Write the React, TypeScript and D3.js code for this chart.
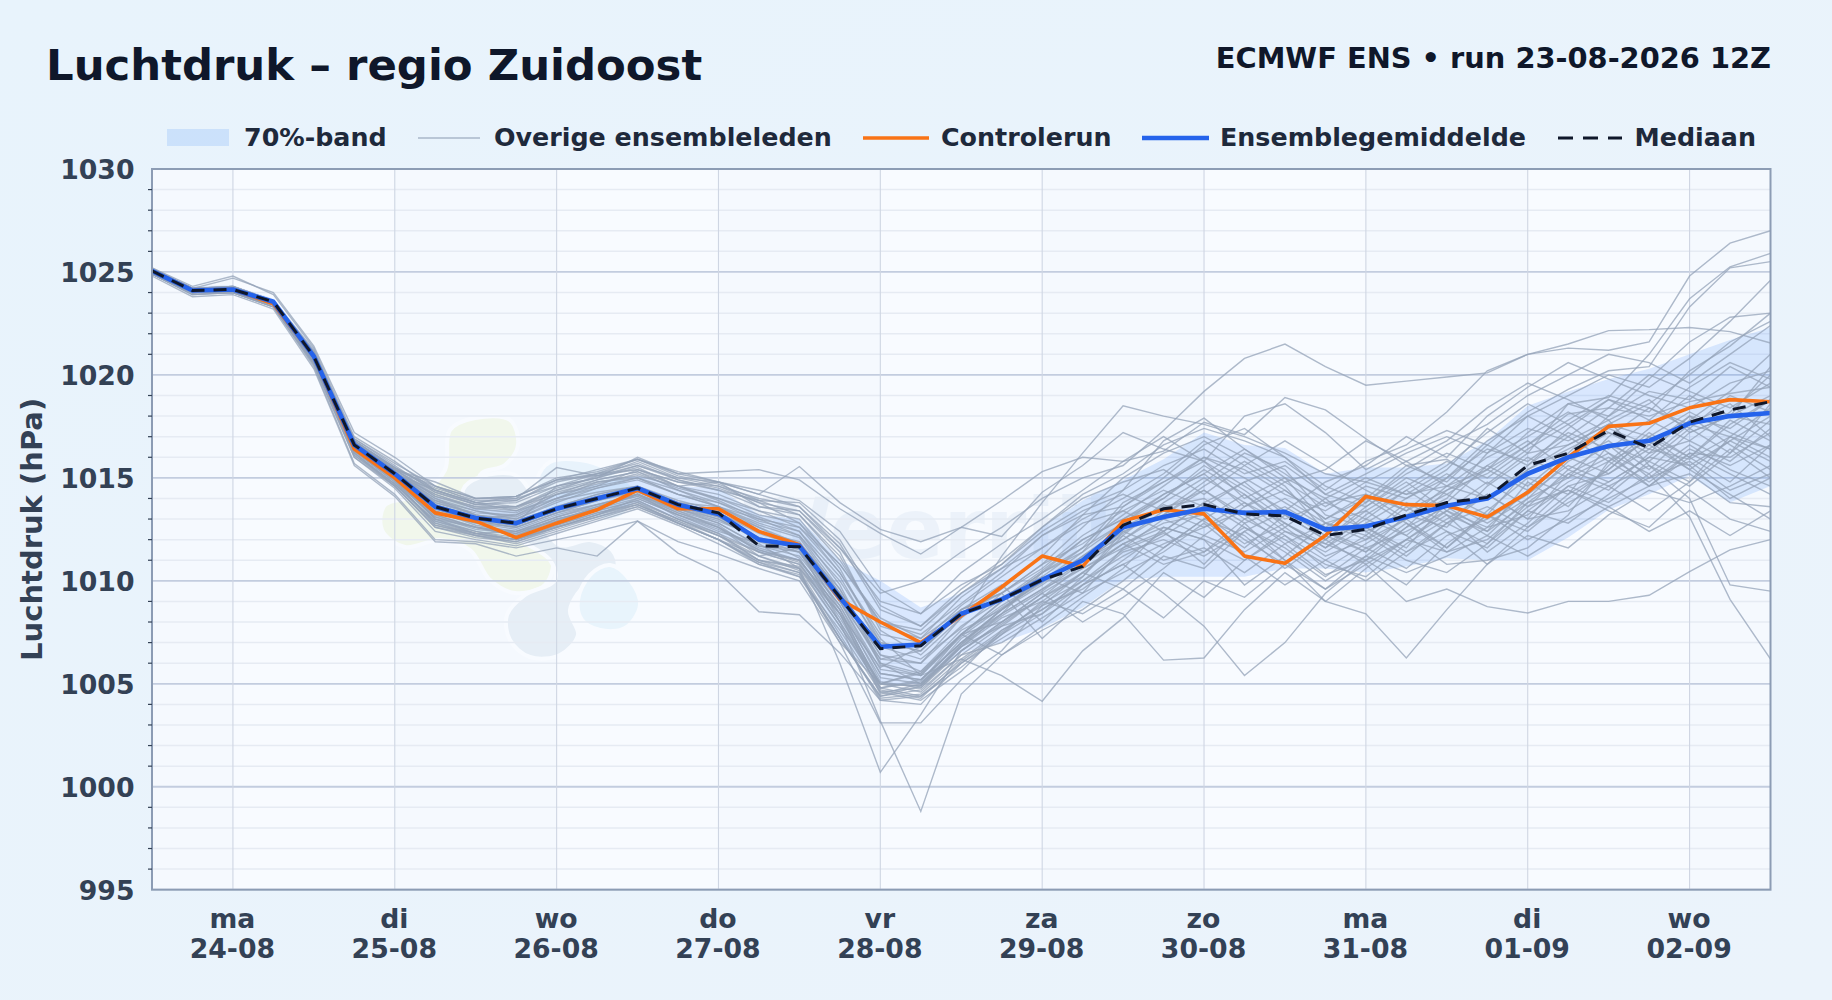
import { useEffect, useRef } from 'react';
import * as d3 from 'd3';

const WIDTH = 1832;
const HEIGHT = 1000;
const FONT = '"DejaVu Sans", sans-serif';

// forecast hours, 6-hourly from run 23-08 12Z
const hours = d3.range(0, 246, 6);
const dayTicks = [12, 36, 60, 84, 108, 132, 156, 180, 204, 228];
const dayNames = ['ma', 'di', 'wo', 'do', 'vr', 'za', 'zo', 'ma', 'di', 'wo'];
const dayDates = ['24-08', '25-08', '26-08', '27-08', '28-08', '29-08', '30-08', '31-08', '01-09', '02-09'];
const majorTicks = [995, 1000, 1005, 1010, 1015, 1020, 1025, 1030];
const shadedDays = [[0, 12], [36, 60], [84, 108], [132, 156], [180, 204], [228, 240]];

const mean = [1025.05, 1024.1, 1024.15, 1023.55, 1020.9, 1016.6, 1015.2, 1013.6, 1013.05, 1012.8, 1013.5, 1014.0, 1014.5, 1013.7, 1013.25, 1012.0, 1011.7, 1009.2, 1006.8, 1006.9, 1008.4, 1009.1, 1010.05, 1011.0, 1012.6, 1013.1, 1013.5, 1013.3, 1013.35, 1012.5, 1012.65, 1013.1, 1013.65, 1014.0, 1015.2, 1016.0, 1016.55, 1016.8, 1017.65, 1018.0, 1018.15];
const median = [1025.05, 1024.1, 1024.15, 1023.55, 1020.9, 1016.6, 1015.2, 1013.6, 1013.05, 1012.8, 1013.5, 1014.0, 1014.5, 1013.7, 1013.3, 1011.7, 1011.65, 1009.2, 1006.7, 1006.85, 1008.4, 1009.1, 1010.05, 1010.7, 1012.7, 1013.5, 1013.7, 1013.25, 1013.15, 1012.2, 1012.5, 1013.2, 1013.8, 1014.05, 1015.6, 1016.2, 1017.3, 1016.45, 1017.7, 1018.3, 1018.7];
const control = [1025.05, 1024.1, 1024.15, 1023.45, 1020.9, 1016.4, 1015.0, 1013.3, 1012.9, 1012.1, 1012.8, 1013.45, 1014.4, 1013.5, 1013.5, 1012.4, 1011.75, 1009.1, 1008.0, 1007.0, 1008.3, 1009.7, 1011.2, 1010.7, 1012.9, 1013.45, 1013.25, 1011.2, 1010.85, 1012.2, 1014.1, 1013.7, 1013.65, 1013.1, 1014.3, 1016.0, 1017.5, 1017.65, 1018.4, 1018.8, 1018.7];
const bandUpper = [1025.2, 1024.3, 1024.35, 1023.7, 1021.3, 1016.9, 1015.6, 1014.1, 1013.5, 1013.4, 1014.2, 1014.7, 1015.1, 1014.6, 1014.5, 1013.2, 1013.0, 1011.0, 1010.0, 1008.7, 1009.4, 1010.7, 1012.6, 1013.9, 1014.9, 1015.9, 1017.2, 1016.6, 1016.45, 1015.2, 1015.5, 1015.5, 1015.7, 1016.8, 1018.5, 1019.2, 1019.8, 1020.3, 1021.0, 1021.7, 1022.3];
const bandLower = [1024.85, 1023.9, 1023.95, 1023.3, 1020.6, 1016.1, 1014.6, 1012.8, 1012.4, 1012.2, 1012.7, 1013.2, 1013.8, 1013.0, 1012.3, 1011.4, 1011.0, 1007.1, 1005.0, 1005.0, 1006.5, 1007.0, 1007.7, 1008.7, 1010.05, 1010.2, 1010.2, 1010.2, 1010.6, 1010.6, 1010.4, 1010.7, 1011.1, 1011.0, 1011.0, 1012.1, 1013.45, 1014.2, 1015.1, 1013.8, 1014.6];

const members = [
  [1025.1,1024.2,1024.3,1023.6,1021.2,1016.8,1015.5,1014.4,1013.8,1013.4,1014.0,1014.8,1015.1,1014.6,1014.8,1013.6,1013.4,1011.6,1009.4,1010.0,1011.4,1012.6,1014.0,1015.0,1015.6,1017.3,1019.2,1020.8,1021.5,1020.4,1019.5,1019.7,1019.9,1020.1,1021.0,1021.3,1021.2,1021.6,1024.8,1026.4,1027.0],
  [1025.0,1024.0,1024.2,1023.5,1020.8,1016.5,1015.0,1013.6,1013.0,1013.2,1014.2,1014.9,1015.3,1014.4,1013.6,1012.6,1011.6,1009.0,1006.2,1006.0,1008.2,1011.2,1013.8,1016.2,1018.5,1018.0,1017.6,1017.0,1016.2,1015.2,1014.8,1014.2,1014.6,1015.4,1016.6,1018.1,1018.4,1018.0,1018.7,1019.1,1019.4],
  [1025.2,1024.2,1024.7,1024.0,1021.4,1017.2,1016.0,1014.6,1014.0,1014.1,1014.9,1015.2,1015.9,1015.3,1014.8,1014.2,1015.55,1013.8,1012.5,1011.9,1012.6,1013.9,1015.3,1016.0,1015.8,1016.3,1017.7,1017.1,1018.9,1018.3,1016.9,1015.6,1015.9,1014.7,1016.2,1018.6,1018.9,1021.0,1023.7,1025.25,1025.9],
  [1025.2,1024.3,1024.8,1023.9,1021.3,1017.0,1015.8,1014.4,1013.8,1014.0,1014.6,1015.0,1016.0,1015.2,1015.3,1015.4,1014.9,1013.5,1012.3,1011.3,1012.6,1012.15,1014.3,1015.6,1017.2,1016.4,1015.8,1018.0,1018.6,1017.2,1015.4,1016.4,1017.3,1016.6,1018.2,1019.3,1020.2,1020.4,1023.3,1025.2,1025.5],
  [1024.9,1023.9,1024.0,1023.3,1020.4,1015.7,1014.2,1012.0,1011.9,1011.6,1012.0,1012.4,1012.9,1011.35,1010.4,1008.5,1008.35,1006.5,1004.2,1004.4,1006.0,1007.2,1008.4,1010.2,1012.2,1011.0,1011.6,1010.4,1011.8,1010.3,1011.0,1012.0,1011.4,1012.6,1013.2,1014.6,1015.2,1016.4,1015.9,1017.0,1016.4],
  [1024.8,1023.8,1023.9,1023.2,1020.3,1015.6,1014.1,1011.9,1011.8,1011.2,1011.6,1011.2,1012.9,1011.9,1011.3,1010.6,1010.0,1007.0,1005.0,1005.5,1007.4,1006.4,1007.8,1009.2,1010.6,1012.6,1012.0,1009.8,1011.2,1012.8,1013.4,1012.2,1010.8,1011.0,1011.6,1013.2,1015.8,1014.6,1016.2,1016.0,1017.2],
  [1025.0,1024.1,1024.1,1023.5,1020.9,1016.4,1014.9,1013.0,1012.6,1012.2,1012.9,1013.6,1014.2,1013.4,1012.6,1011.2,1011.6,1008.0,1003.2,998.8,1004.5,1006.4,1007.6,1008.6,1010.0,1011.6,1013.0,1012.2,1010.6,1012.0,1013.6,1014.8,1013.4,1012.2,1014.0,1015.8,1016.8,1015.4,1017.2,1018.0,1017.6],
  [1025.0,1024.0,1024.2,1023.4,1020.7,1016.3,1014.8,1012.8,1012.3,1012.0,1012.6,1013.2,1014.0,1013.2,1012.4,1011.8,1010.6,1006.0,1000.7,1003.5,1006.6,1008.0,1009.4,1008.0,1009.2,1010.6,1012.2,1011.4,1012.6,1014.0,1012.4,1011.2,1012.8,1014.2,1013.0,1015.2,1014.4,1016.2,1018.0,1017.4,1018.8],
  [1024.9,1024.0,1024.1,1023.4,1020.6,1016.2,1014.6,1012.6,1012.2,1011.8,1012.4,1013.0,1013.6,1012.8,1012.0,1011.0,1010.4,1007.0,1003.1,1003.1,1005.2,1006.6,1008.8,1010.4,1009.6,1011.2,1010.6,1012.4,1011.0,1009.6,1011.2,1012.6,1013.6,1012.4,1014.8,1013.6,1015.6,1017.2,1016.0,1014.8,1016.6],
  [1025.1,1024.1,1024.2,1023.5,1020.9,1016.6,1015.1,1013.9,1013.2,1012.8,1014.6,1015.0,1015.5,1014.6,1014.0,1013.4,1012.6,1010.4,1007.2,1005.4,1006.2,1005.4,1004.15,1006.6,1008.2,1010.4,1009.2,1011.0,1012.2,1010.6,1011.8,1013.0,1011.6,1013.4,1015.0,1014.2,1016.6,1015.8,1017.4,1019.0,1018.2],
  [1025.0,1024.1,1024.1,1023.5,1020.8,1016.5,1015.0,1013.0,1012.4,1012.0,1012.6,1013.2,1013.8,1012.8,1012.0,1011.2,1010.6,1008.4,1005.8,1006.8,1008.6,1009.4,1007.2,1009.0,1008.4,1006.15,1006.25,1008.6,1010.4,1009.0,1010.6,1012.0,1013.2,1011.4,1012.8,1014.6,1013.8,1015.2,1016.6,1015.4,1014.6],
  [1025.1,1024.2,1024.2,1023.6,1021.0,1016.7,1015.2,1014.2,1013.5,1013.6,1014.2,1014.6,1015.4,1014.8,1014.6,1013.8,1012.8,1010.8,1008.2,1007.2,1008.6,1009.8,1008.0,1009.8,1010.8,1009.4,1007.8,1005.4,1007.0,1009.4,1011.0,1009.8,1011.8,1013.2,1012.4,1014.0,1015.4,1017.0,1016.0,1017.8,1016.8],
  [1025.0,1024.0,1024.1,1023.4,1020.7,1016.4,1015.0,1013.2,1012.6,1012.2,1013.0,1013.4,1013.9,1013.0,1012.2,1011.4,1010.8,1008.0,1005.0,1005.6,1007.6,1008.6,1010.2,1009.4,1011.6,1012.4,1010.8,1012.8,1011.0,1009.0,1008.4,1006.25,1008.6,1010.8,1012.6,1013.8,1014.8,1016.0,1015.6,1016.8,1015.8],
  [1025.1,1024.1,1024.2,1023.6,1021.0,1016.6,1015.2,1014.4,1013.7,1013.9,1014.8,1015.2,1015.7,1014.9,1014.4,1013.9,1013.2,1011.0,1008.0,1007.6,1009.4,1010.6,1011.6,1012.8,1013.4,1012.4,1013.8,1014.8,1013.2,1012.0,1013.4,1014.6,1015.8,1015.0,1016.4,1017.6,1016.2,1015.2,1013.1,1009.1,1006.2],
  [1025.0,1024.0,1024.1,1023.5,1020.8,1016.5,1015.1,1013.0,1012.3,1012.4,1012.9,1013.5,1014.2,1013.1,1012.3,1011.4,1011.0,1008.6,1004.8,1005.2,1007.0,1008.4,1010.4,1011.6,1012.8,1014.2,1015.2,1013.6,1014.4,1013.0,1014.2,1013.0,1014.0,1016.2,1017.4,1016.8,1017.8,1015.6,1014.0,1009.8,1009.5],
  [1025.1,1024.2,1024.3,1023.6,1021.1,1016.8,1015.4,1014.6,1013.8,1014.1,1014.9,1015.1,1015.8,1015.0,1014.8,1014.4,1013.9,1012.4,1009.6,1008.4,1009.8,1010.8,1012.4,1013.6,1014.4,1015.6,1016.4,1015.2,1015.8,1014.4,1015.8,1016.6,1018.2,1020.2,1021.0,1021.5,1022.15,1022.2,1022.3,1022.1,1021.55],
  [1024.9,1023.9,1024.0,1023.3,1020.5,1016.0,1014.5,1012.4,1012.0,1011.7,1012.3,1012.9,1013.5,1012.7,1011.8,1010.8,1010.2,1007.6,1004.6,1004.8,1006.8,1008.2,1009.0,1008.4,1009.6,1008.2,1010.0,1009.2,1010.8,1009.6,1010.8,1009.0,1009.6,1008.75,1008.44,1009.0,1009.0,1009.3,1010.45,1011.5,1012.0],
  [1025.0,1024.1,1024.2,1023.5,1020.9,1016.6,1015.3,1013.9,1013.4,1013.0,1013.8,1014.5,1014.9,1014.2,1013.6,1012.8,1012.2,1010.0,1007.0,1006.6,1008.4,1009.4,1010.8,1012.6,1014.4,1016.8,1017.9,1016.4,1015.2,1013.8,1013.0,1014.4,1015.6,1017.2,1018.6,1017.6,1018.8,1018.2,1020.2,1021.4,1023.0],
  [1025.1,1024.1,1024.2,1023.5,1021.0,1016.7,1015.4,1014.8,1014.0,1014.0,1015.5,1015.1,1015.6,1015.0,1014.6,1014.0,1013.6,1011.6,1009.0,1008.4,1010.4,1011.8,1013.0,1014.4,1015.8,1017.0,1015.8,1014.6,1013.4,1014.8,1015.6,1017.0,1016.0,1018.0,1019.4,1020.6,1019.8,1019.0,1018.4,1019.6,1020.2],
  [1025.0,1024.0,1024.1,1023.4,1020.6,1016.3,1014.9,1013.1,1012.5,1012.3,1013.0,1013.5,1014.2,1013.3,1012.7,1011.4,1010.8,1008.4,1005.0,1004.9,1006.6,1008.0,1009.2,1010.8,1012.0,1013.2,1014.6,1015.8,1014.6,1012.4,1011.4,1013.2,1012.6,1014.6,1016.0,1015.0,1017.0,1018.4,1017.4,1016.2,1018.6],
  [1025.1,1024.2,1024.2,1023.6,1021.1,1016.9,1015.6,1014.3,1013.7,1013.8,1014.6,1015.2,1015.4,1014.8,1014.4,1013.6,1013.2,1011.2,1007.8,1007.2,1009.2,1010.6,1012.2,1013.4,1014.2,1013.4,1014.8,1016.2,1015.4,1013.2,1012.6,1011.6,1013.8,1015.6,1014.6,1016.2,1018.0,1019.2,1018.8,1020.4,1019.4],
  [1024.9,1024.0,1024.0,1023.4,1020.7,1016.2,1014.7,1012.9,1012.4,1012.1,1012.8,1013.4,1013.9,1013.0,1012.2,1011.0,1010.6,1007.8,1004.8,1004.4,1005.8,1007.4,1008.6,1010.0,1011.2,1012.2,1013.4,1012.0,1010.8,1012.2,1014.0,1012.8,1011.4,1012.0,1013.6,1015.4,1016.6,1015.0,1015.8,1014.4,1015.2],
  [1025.0,1024.1,1024.1,1023.5,1020.8,1016.6,1015.2,1014.0,1013.2,1013.0,1013.9,1014.3,1014.6,1013.8,1013.6,1013.0,1012.2,1009.6,1006.4,1005.6,1007.4,1009.0,1010.4,1012.0,1013.0,1014.0,1015.4,1014.2,1012.8,1011.6,1012.8,1014.0,1015.2,1014.0,1015.6,1017.0,1015.8,1017.4,1019.0,1018.0,1020.4],
  [1025.1,1024.1,1024.2,1023.6,1021.0,1016.7,1015.3,1013.5,1012.9,1012.6,1013.3,1013.9,1014.4,1013.5,1013.0,1012.0,1011.4,1009.0,1005.5,1005.2,1007.0,1008.6,1010.0,1011.4,1013.6,1015.0,1016.6,1017.4,1016.0,1014.2,1013.6,1015.0,1014.2,1013.2,1015.4,1016.4,1017.4,1016.6,1015.4,1016.8,1018.0],
  [1025.0,1024.0,1024.1,1023.5,1020.7,1016.4,1014.9,1012.7,1012.2,1011.9,1012.6,1013.1,1013.6,1012.8,1012.0,1010.9,1010.2,1007.2,1004.4,1004.9,1006.8,1007.8,1009.2,1010.2,1012.4,1011.6,1013.0,1014.2,1012.6,1011.2,1012.0,1013.6,1012.4,1011.6,1013.4,1012.8,1014.2,1015.8,1014.8,1017.0,1016.0],
  [1025.1,1024.2,1024.2,1023.6,1021.0,1016.7,1015.4,1014.2,1013.6,1013.4,1014.3,1014.8,1015.0,1014.4,1013.8,1012.9,1012.4,1009.8,1006.0,1005.0,1007.2,1008.4,1009.6,1010.6,1011.6,1013.0,1012.2,1013.6,1014.8,1013.6,1014.8,1015.8,1014.6,1016.0,1017.0,1018.2,1017.2,1016.4,1017.8,1019.2,1021.0],
  [1025.0,1024.1,1024.1,1023.5,1020.9,1016.5,1015.0,1013.3,1012.8,1012.6,1013.3,1013.9,1014.4,1013.5,1012.8,1011.7,1011.4,1008.4,1004.6,1004.2,1005.6,1007.6,1008.8,1009.6,1011.0,1012.4,1013.8,1012.6,1011.6,1010.2,1011.6,1010.6,1012.2,1013.0,1014.2,1015.6,1014.8,1016.0,1017.6,1018.6,1017.0],
  [1025.1,1024.1,1024.2,1023.6,1021.1,1016.8,1015.5,1014.5,1013.9,1013.9,1014.9,1015.4,1015.9,1015.2,1014.8,1014.2,1013.6,1011.8,1008.6,1007.8,1009.6,1011.0,1012.6,1014.0,1014.8,1015.4,1014.2,1015.6,1016.8,1015.6,1014.4,1013.4,1015.0,1016.8,1018.0,1019.0,1020.0,1019.4,1020.8,1022.6,1024.6],
  [1025.0,1024.0,1024.1,1023.4,1020.6,1016.2,1014.7,1012.9,1012.3,1012.0,1012.7,1013.3,1013.7,1012.8,1012.0,1010.8,1010.3,1007.2,1004.4,1004.7,1006.4,1007.0,1008.2,1009.4,1010.4,1011.4,1012.8,1011.2,1009.8,1011.0,1012.2,1011.0,1010.4,1011.8,1013.8,1014.4,1013.6,1014.6,1015.2,1013.8,1013.6],
  [1025.1,1024.2,1024.3,1023.6,1021.0,1016.7,1015.4,1014.1,1013.6,1013.6,1014.4,1014.9,1015.3,1014.6,1014.2,1013.4,1013.0,1010.6,1007.0,1006.6,1008.6,1009.4,1010.8,1011.8,1013.2,1014.6,1016.0,1015.0,1013.8,1012.6,1013.8,1015.2,1016.2,1015.4,1017.2,1018.6,1018.0,1019.8,1021.6,1022.8,1023.0],
  [1025.0,1024.1,1024.2,1023.5,1020.9,1016.5,1015.1,1013.5,1012.9,1012.6,1013.3,1013.7,1014.2,1013.5,1012.9,1012.1,1011.1,1008.2,1005.0,1004.9,1006.9,1008.6,1009.8,1011.2,1012.6,1013.6,1014.0,1012.8,1013.6,1012.4,1011.6,1012.4,1013.4,1012.6,1014.4,1016.0,1017.2,1016.2,1016.8,1015.8,1017.4],
  [1024.9,1023.9,1024.0,1023.3,1020.5,1016.0,1014.6,1012.6,1012.1,1011.9,1012.5,1013.1,1013.7,1012.9,1012.2,1011.2,1010.5,1007.4,1004.2,1004.0,1006.0,1007.4,1009.0,1010.4,1011.8,1010.8,1011.4,1013.0,1012.0,1010.8,1010.2,1011.8,1013.0,1014.2,1013.0,1013.4,1014.6,1013.4,1014.8,1016.4,1015.0],
  [1025.1,1024.1,1024.2,1023.5,1021.0,1016.6,1015.3,1013.8,1013.3,1013.2,1014.0,1014.6,1015.0,1014.2,1013.6,1012.7,1012.1,1009.4,1006.2,1006.6,1008.4,1009.2,1010.2,1011.6,1013.8,1014.8,1016.0,1015.4,1014.2,1013.4,1014.6,1014.0,1015.0,1016.4,1015.8,1017.2,1016.4,1017.8,1019.4,1020.6,1019.8],
  [1025.0,1024.0,1024.1,1023.5,1020.8,1016.4,1015.0,1013.4,1012.7,1012.4,1013.1,1013.7,1014.1,1013.2,1012.6,1011.5,1011.0,1008.6,1004.8,1005.1,1007.4,1008.0,1009.4,1010.6,1011.8,1012.8,1013.2,1011.8,1012.8,1011.8,1013.0,1012.2,1013.8,1012.8,1014.0,1015.0,1016.0,1014.8,1016.2,1015.2,1014.2],
  [1025.1,1024.2,1024.2,1023.6,1021.1,1016.8,1015.5,1014.4,1013.8,1013.6,1014.5,1015.0,1015.6,1014.9,1014.5,1013.8,1013.4,1011.4,1007.6,1006.4,1008.2,1009.6,1011.2,1013.2,1015.0,1016.2,1017.0,1016.0,1014.8,1015.4,1016.8,1015.8,1016.8,1018.4,1019.6,1018.8,1017.8,1018.8,1017.2,1018.0,1019.0],
  [1025.0,1024.1,1024.1,1023.5,1020.9,1016.6,1015.1,1013.8,1013.2,1012.9,1013.6,1014.2,1014.6,1013.9,1013.4,1012.6,1011.8,1009.6,1005.9,1005.4,1007.4,1008.8,1010.0,1011.0,1012.2,1013.8,1015.0,1013.8,1012.4,1011.8,1011.0,1012.6,1014.4,1015.6,1016.8,1015.4,1014.6,1015.6,1014.6,1016.2,1017.8],
  [1024.9,1024.0,1024.0,1023.4,1020.6,1016.1,1014.6,1012.7,1012.3,1012.0,1012.7,1013.3,1013.8,1013.0,1012.3,1011.0,1010.7,1007.8,1005.0,1004.6,1006.4,1007.8,1008.4,1009.8,1011.4,1012.0,1011.2,1012.4,1013.4,1012.2,1011.4,1012.8,1011.6,1013.2,1012.0,1013.0,1014.0,1015.0,1016.4,1015.6,1016.6],
  [1025.1,1024.1,1024.2,1023.6,1021.0,1016.7,1015.3,1014.0,1013.4,1013.1,1014.0,1014.5,1015.0,1014.2,1013.8,1013.1,1012.4,1010.2,1006.8,1006.2,1007.7,1009.4,1010.6,1012.2,1013.4,1014.4,1013.6,1014.8,1015.6,1014.2,1015.2,1016.2,1017.0,1016.2,1018.0,1017.0,1018.4,1020.0,1019.2,1018.4,1019.6],
  [1025.0,1024.0,1024.1,1023.5,1020.7,1016.3,1014.9,1013.2,1012.6,1012.4,1013.1,1013.6,1014.1,1013.3,1012.6,1011.6,1011.0,1008.4,1004.5,1005.0,1006.8,1008.4,1009.6,1011.0,1012.4,1013.2,1014.4,1013.2,1011.8,1012.8,1012.2,1013.8,1012.8,1011.8,1013.4,1014.8,1015.8,1016.8,1015.4,1014.2,1013.0],
  [1025.1,1024.2,1024.3,1023.6,1021.1,1016.9,1015.7,1014.6,1014.0,1014.1,1015.0,1015.3,1015.9,1015.1,1014.7,1013.9,1013.8,1012.0,1008.8,1007.8,1009.4,1010.8,1012.6,1014.2,1015.2,1016.6,1017.4,1016.8,1016.0,1014.6,1013.8,1015.4,1016.6,1017.6,1019.0,1020.0,1021.0,1020.6,1019.6,1021.0,1022.4],
  [1025.0,1024.1,1024.1,1023.4,1020.8,1016.4,1015.0,1013.3,1012.8,1012.5,1013.2,1013.7,1014.2,1013.4,1012.8,1011.7,1011.2,1008.8,1005.1,1004.8,1006.6,1007.9,1009.2,1010.4,1011.8,1012.6,1012.0,1011.0,1012.4,1011.4,1012.6,1011.4,1012.8,1013.6,1012.6,1014.2,1015.4,1017.0,1018.2,1017.2,1016.4],
  [1025.1,1024.1,1024.2,1023.5,1021.0,1016.6,1015.2,1013.7,1013.1,1012.8,1013.5,1014.1,1014.5,1013.8,1013.3,1012.3,1011.7,1009.2,1006.0,1005.5,1007.4,1009.0,1010.4,1011.4,1012.8,1014.0,1015.6,1014.4,1013.0,1013.8,1014.2,1013.4,1014.4,1015.2,1016.6,1017.8,1019.0,1018.4,1017.6,1017.0,1018.4],
  [1024.9,1024.0,1024.0,1023.3,1020.6,1016.1,1014.7,1012.8,1012.2,1012.0,1012.6,1013.2,1013.7,1012.9,1012.0,1010.9,1010.4,1007.2,1004.3,1004.5,1006.2,1007.6,1008.6,1009.8,1010.8,1011.8,1012.6,1013.4,1012.2,1011.0,1010.0,1011.4,1012.4,1010.8,1012.2,1011.6,1013.2,1014.4,1013.8,1014.6,1015.6],
  [1025.1,1024.2,1024.2,1023.6,1021.0,1016.7,1015.3,1014.1,1013.5,1013.3,1014.2,1014.7,1015.2,1014.5,1014.0,1013.2,1012.8,1010.4,1007.4,1007.0,1008.8,1010.2,1011.6,1013.0,1014.0,1015.2,1016.8,1015.6,1014.4,1013.0,1014.0,1015.6,1014.8,1016.6,1015.6,1017.4,1018.8,1017.8,1016.8,1018.2,1020.0],
  [1025.0,1024.0,1024.1,1023.5,1020.8,1016.5,1015.0,1013.4,1012.9,1012.7,1013.4,1013.9,1014.3,1013.6,1013.1,1011.9,1011.4,1008.8,1005.5,1005.2,1007.0,1008.6,1010.0,1011.0,1012.0,1013.4,1012.6,1013.8,1012.8,1011.6,1013.2,1014.4,1013.2,1012.4,1013.8,1015.2,1016.2,1014.6,1016.0,1017.6,1018.8],
  [1025.1,1024.1,1024.2,1023.6,1020.9,1016.6,1015.2,1013.6,1013.0,1012.7,1013.5,1014.0,1014.5,1013.7,1013.1,1012.1,1011.5,1009.0,1005.7,1005.4,1007.3,1008.7,1009.9,1011.2,1012.5,1013.5,1014.4,1013.0,1014.0,1012.8,1012.4,1013.2,1014.2,1015.4,1014.4,1016.0,1015.2,1016.6,1018.0,1016.6,1015.4],
  [1025.0,1024.1,1024.1,1023.5,1020.9,1016.5,1015.1,1013.5,1013.0,1012.8,1013.5,1014.1,1014.5,1013.6,1013.0,1012.0,1011.6,1008.6,1005.3,1005.0,1006.9,1008.3,1009.5,1010.9,1012.3,1013.7,1012.9,1011.6,1013.2,1012.0,1010.8,1012.0,1013.4,1014.8,1013.6,1014.4,1013.4,1012.6,1014.4,1013.0,1012.4],
  [1025.1,1024.2,1024.2,1023.5,1021.0,1016.8,1015.4,1014.3,1013.7,1013.5,1014.4,1015.1,1015.4,1014.6,1013.9,1013.0,1012.6,1010.8,1008.0,1007.4,1008.9,1010.4,1012.2,1013.2,1013.6,1014.8,1015.8,1014.0,1015.0,1014.0,1015.0,1014.2,1015.4,1017.4,1016.2,1016.6,1017.6,1018.6,1020.0,1021.6,1022.6],
  [1025.0,1024.0,1024.1,1023.4,1020.7,1016.3,1014.8,1013.1,1012.6,1012.3,1013.0,1013.5,1014.0,1013.2,1012.5,1011.5,1010.9,1008.0,1004.7,1004.3,1006.1,1007.5,1008.9,1010.0,1011.5,1012.3,1011.4,1012.6,1011.4,1010.0,1011.2,1010.4,1011.2,1012.2,1011.2,1012.4,1013.6,1012.4,1013.4,1012.2,1013.4],
  [1025.0,1024.1,1024.2,1023.6,1021.0,1016.7,1015.3,1013.7,1013.1,1012.9,1013.6,1014.2,1014.6,1013.8,1013.3,1012.4,1011.9,1009.4,1006.4,1006.0,1007.8,1009.1,1010.5,1012.0,1013.0,1014.2,1015.2,1016.4,1015.0,1012.8,1012.0,1013.0,1014.6,1014.0,1015.4,1016.6,1017.6,1017.0,1015.6,1014.0,1015.0],
];

// background logo blobs (page coordinates)
const blobGreen: [number, number][] = [[450,430],[475,418],[510,420],[518,445],[505,465],[480,475],[490,510],[530,525],[553,555],[545,585],[515,593],[490,580],[470,550],[440,540],[405,547],[382,530],[385,505],[420,495],[445,470]];
const blobGrey: [number, number][] = [[463,490],[480,477],[515,475],[532,495],[540,520],[560,545],[590,540],[612,550],[617,567],[590,580],[570,610],[578,635],[560,655],[530,657],[510,640],[507,615],[525,595],[555,580],[550,560],[520,540],[490,520],[470,510]];
const blobBlueTop: [number, number][] = [[537,480],[550,462],[580,460],[610,470],[635,490],[625,515],[600,520],[575,505],[560,520],[540,505]];
const blobBlueLow: [number, number][] = [[578,600],[590,575],[610,565],[630,580],[640,605],[625,628],[600,630],[582,620]];

export default function App() {
  const svgRef = useRef<SVGSVGElement>(null);

  useEffect(() => {
    if (!svgRef.current) return;
    const svg = d3.select(svgRef.current);
    svg.selectAll('*').remove();

    const margin = { left: 152, right: 61.5, top: 169, bottom: 110.3 };
    const x = d3.scaleLinear().domain([0, 240]).range([margin.left, WIDTH - margin.right]);
    const y = d3.scaleLinear().domain([995, 1030]).range([HEIGHT - margin.bottom, margin.top]);
    const innerW = x.range()[1] - x.range()[0];
    const innerH = y.range()[0] - y.range()[1];

    const defs = svg.append('defs');
    const bg = defs.append('linearGradient').attr('id', 'pageBg').attr('x1', 0).attr('x2', 1).attr('y1', 0).attr('y2', 1);
    bg.append('stop').attr('offset', 0).attr('stop-color', '#e8f3fc');
    bg.append('stop').attr('offset', 1).attr('stop-color', '#ebf3fb');
    defs.append('clipPath').attr('id', 'plotClip').append('rect')
      .attr('x', margin.left).attr('y', margin.top).attr('width', innerW).attr('height', innerH);

    svg.append('rect').attr('width', WIDTH).attr('height', HEIGHT).attr('fill', 'url(#pageBg)');
    svg.append('rect').attr('x', margin.left).attr('y', margin.top).attr('width', innerW).attr('height', innerH).attr('fill', '#f8fbff');

    const plot = svg.append('g').attr('clip-path', 'url(#plotClip)');

    // alternate day shading
    plot.selectAll('rect.day').data(shadedDays).join('rect')
      .attr('class', 'day')
      .attr('x', (d) => x(d[0])).attr('width', (d) => x(d[1]) - x(d[0]))
      .attr('y', margin.top).attr('height', innerH)
      .attr('fill', '#5b8fd6').attr('opacity', 0.018);

    // watermark
    const blob = d3.line().curve(d3.curveCatmullRomClosed.alpha(0.5));
    const logo = plot.append('g');
    const blobs: [[number, number][], string][] = [
      [blobGreen, '#f1f7ec'], [blobGrey, '#e6eef6'], [blobBlueTop, '#e8f3fc'], [blobBlueLow, '#e8f4fc'],
    ];
    blobs.forEach(([pts, fill]) => {
      logo.append('path').attr('d', blob(pts)).attr('fill', fill).attr('stroke', '#f8fbff').attr('stroke-width', 4);
    });
    logo.append('text').attr('x', 740).attr('y', 558)
      .attr('font-family', FONT).attr('font-weight', 700).attr('font-size', 84)
      .attr('fill', '#7fa3cc').attr('opacity', 0.09).text('Weerrijk');

    // grid
    plot.selectAll('line.minor').data(d3.range(995, 1031).filter((v) => v % 5 !== 0)).join('line')
      .attr('class', 'minor')
      .attr('x1', margin.left).attr('x2', margin.left + innerW)
      .attr('y1', (d) => y(d)).attr('y2', (d) => y(d))
      .attr('stroke', '#e6ebf3').attr('stroke-width', 1.5);
    plot.selectAll('line.major').data(majorTicks).join('line')
      .attr('class', 'major')
      .attr('x1', margin.left).attr('x2', margin.left + innerW)
      .attr('y1', (d) => y(d)).attr('y2', (d) => y(d))
      .attr('stroke', '#c3cddf').attr('stroke-width', 1.8);
    plot.selectAll('line.vert').data(dayTicks).join('line')
      .attr('class', 'vert')
      .attr('x1', (d) => x(d)).attr('x2', (d) => x(d))
      .attr('y1', margin.top).attr('y2', margin.top + innerH)
      .attr('stroke', '#cfd6e3').attr('stroke-width', 1.1);

    // 70% band
    const area = d3.area<number>()
      .x((_, i) => x(hours[i]))
      .y0((_, i) => y(bandLower[i]))
      .y1((d) => y(d));
    plot.append('path').attr('d', area(bandUpper)).attr('fill', '#3b82f6').attr('opacity', 0.16);

    const line = d3.line<number>().x((_, i) => x(hours[i])).y((d) => y(d));

    plot.selectAll('path.member').data(members).join('path')
      .attr('class', 'member')
      .attr('d', (d) => line(d))
      .attr('fill', 'none')
      .attr('stroke', '#94a3b8').attr('stroke-opacity', 0.75).attr('stroke-width', 1.4);

    plot.append('path').attr('d', line(control)).attr('fill', 'none')
      .attr('stroke', '#f97316').attr('stroke-width', 3.6).attr('stroke-linejoin', 'round');
    plot.append('path').attr('d', line(mean)).attr('fill', 'none')
      .attr('stroke', '#2563eb').attr('stroke-width', 4.6).attr('stroke-linejoin', 'round');
    plot.append('path').attr('d', line(median)).attr('fill', 'none')
      .attr('stroke', '#0f172a').attr('stroke-width', 3).attr('stroke-dasharray', '13 9');

    // frame and axes
    svg.append('rect').attr('x', margin.left).attr('y', margin.top).attr('width', innerW).attr('height', innerH)
      .attr('fill', 'none').attr('stroke', '#8c9cb4').attr('stroke-width', 2);

    svg.selectAll('line.tick').data(d3.range(995, 1031).filter((v) => v % 5 !== 0)).join('line')
      .attr('class', 'tick')
      .attr('x1', margin.left - 4).attr('x2', margin.left)
      .attr('y1', (d) => y(d)).attr('y2', (d) => y(d))
      .attr('stroke', '#334155').attr('stroke-width', 1.2);

    const tickText = svg.append('g').attr('font-family', FONT).attr('font-weight', 700).attr('font-size', 26.7).attr('fill', '#334155');
    tickText.selectAll('text.y').data(majorTicks).join('text')
      .attr('class', 'y')
      .attr('x', 134.5).attr('y', (d) => y(d) + 10)
      .attr('text-anchor', 'end')
      .text((d) => d);
    tickText.selectAll('text.dn').data(dayTicks).join('text')
      .attr('class', 'dn')
      .attr('x', (d) => x(d) - 0.5).attr('y', 928)
      .attr('text-anchor', 'middle')
      .text((_, i) => dayNames[i]);
    tickText.selectAll('text.dd').data(dayTicks).join('text')
      .attr('class', 'dd')
      .attr('x', (d) => x(d) - 0.5).attr('y', 958)
      .attr('text-anchor', 'middle')
      .text((_, i) => dayDates[i]);
    tickText.append('text')
      .attr('transform', `translate(42,${margin.top + innerH / 2}) rotate(-90)`)
      .attr('text-anchor', 'middle')
      .attr('font-size', 29)
      .text('Luchtdruk (hPa)');

    // titles
    svg.append('text').attr('x', 46).attr('y', 80)
      .attr('font-family', FONT).attr('font-weight', 700).attr('font-size', 43.4).attr('fill', '#0f172a')
      .text('Luchtdruk – regio Zuidoost');
    svg.append('text').attr('x', 1771).attr('y', 68).attr('text-anchor', 'end')
      .attr('font-family', FONT).attr('font-weight', 700).attr('font-size', 28.85).attr('fill', '#0f172a')
      .text('ECMWF ENS • run 23-08-2026 12Z');

    // legend
    const legend = svg.append('g').attr('font-family', FONT).attr('font-weight', 700).attr('font-size', 25.35).attr('fill', '#1e293b');
    legend.append('rect').attr('x', 167).attr('y', 129).attr('width', 62).attr('height', 17).attr('fill', '#3b82f6').attr('opacity', 0.16);
    legend.append('line').attr('x1', 418).attr('x2', 480).attr('y1', 138).attr('y2', 138).attr('stroke', '#94a3b8').attr('stroke-opacity', 0.75).attr('stroke-width', 1.4);
    legend.append('line').attr('x1', 863).attr('x2', 929).attr('y1', 138).attr('y2', 138).attr('stroke', '#f97316').attr('stroke-width', 3.6);
    legend.append('line').attr('x1', 1142).attr('x2', 1209).attr('y1', 138).attr('y2', 138).attr('stroke', '#2563eb').attr('stroke-width', 4.6);
    legend.append('line').attr('x1', 1558).attr('x2', 1622).attr('y1', 138).attr('y2', 138).attr('stroke', '#0f172a').attr('stroke-width', 3).attr('stroke-dasharray', '15 10');
    const legendLabels: [number, string][] = [[244, '70%-band'], [494, 'Overige ensembleleden'], [941, 'Controlerun'], [1220, 'Ensemblegemiddelde'], [1634.5, 'Mediaan']];
    legendLabels.forEach(([lx, label]) => {
      legend.append('text').attr('x', lx).attr('y', 146).text(label);
    });
  }, []);

  return (
    <div style={{ position: 'absolute', left: 0, top: 0 }}>
      <svg ref={svgRef} width={WIDTH} height={HEIGHT} style={{ display: 'block' }} />
    </div>
  );
}
